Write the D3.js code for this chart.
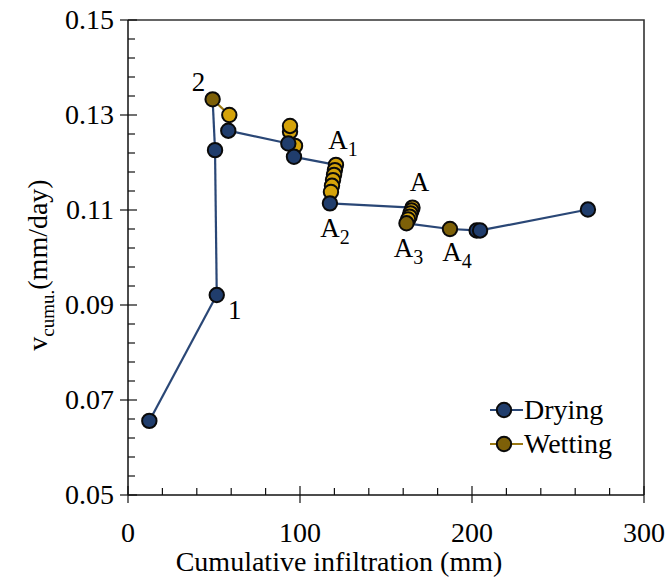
<!DOCTYPE html>
<html>
<head>
<meta charset="utf-8">
<script src="https://d3js.org/d3.v7.min.js"></script>
</head>
<body style="margin:0">
<script>
// points in the order they were measured
// phase: d = drying, w = wetting, t = wetting turning point
var infil = [12.4, 51.6, 50.6, 49.2, 58.9, 58.3, 93.2, 97.1, 94.2, 94.2, 96.5,
             120.9, 120.3, 119.8, 119.2, 118.6, 118.0, 117.4,
             165.4, 164.8, 164.2, 163.7, 162.8, 161.9, 187.2, 202.7, 204.7, 267.4];
var vcumu = [0.0656, 0.0921, 0.1226, 0.1333, 0.1300, 0.1267, 0.1240, 0.1235, 0.1265, 0.1277, 0.1212,
             0.1195, 0.1184, 0.1174, 0.1163, 0.1151, 0.1138, 0.1114,
             0.1105, 0.1099, 0.1093, 0.1086, 0.1080, 0.1072, 0.1060, 0.1057, 0.1057, 0.1101];
var phase = ["d", "d", "d", "t", "w", "d", "d", "w", "w", "w", "d",
             "w", "w", "w", "w", "w", "w", "d",
             "w", "w", "w", "w", "w", "t", "t", "d", "d", "d"];

var xTicks = [0, 100, 200, 300];
var yTicks = [0.05, 0.07, 0.09, 0.11, 0.13, 0.15];
var legendNames = ["Drying", "Wetting"];

// annotation labels: point index, text, subscript
var notes = [
  {i: 1,  t: "1", s: ""},
  {i: 3,  t: "2", s: ""},
  {i: 11, t: "A", s: "1"},
  {i: 17, t: "A", s: "2"},
  {i: 18, t: "A", s: ""},
  {i: 23, t: "A", s: "3"},
  {i: 24, t: "A", s: "4"}
];
var noteOffset = [[18, 24], [-14, -8], [7, -16], [5, 34], [7, -17], [2, 34], [7, 32]];

var navy = "#203d6c", gold = "#d5a30a", olive = "#7d6008";
var navyLine = "#2a4776", oliveLine = "#9a7812";

var W = 670, H = 581;
var svg = d3.select("body").append("svg").attr("width", W).attr("height", H);

function label(sel, size) {
  return sel.append("text")
    .style("font", size + "px 'DejaVu Serif', serif")
    .style("font-family", "Liberation Serif");
}

var x = d3.scaleLinear().domain([0, 300]).range([128, 644]);
var y = d3.scaleLinear().domain([0.05, 0.15]).range([495, 20]);

var pts = infil.map(function(d, i) { return {x: d, v: vcumu[i], p: phase[i], i: i}; });

// frame (top and right)
svg.append("path")
   .attr("d", "M" + x(0) + "," + y(0.15) + "H" + x(300) + "V" + y(0.05))
   .attr("fill", "none").attr("stroke", "#333").attr("stroke-width", 1.6);

// axes lines
svg.append("line").attr("x1", x(0)).attr("x2", x(300)).attr("y1", y(0.05)).attr("y2", y(0.05))
   .attr("stroke", "#111").attr("stroke-width", 1.5);
svg.append("line").attr("x1", x(0)).attr("x2", x(0)).attr("y1", y(0.05)).attr("y2", y(0.15))
   .attr("stroke", "#111").attr("stroke-width", 1.5);

// x ticks: minor every 20, major every 100
d3.range(0, 301, 20).forEach(function(t) {
  var major = t % 100 === 0;
  svg.append("line").attr("x1", x(t)).attr("x2", x(t))
     .attr("y1", y(0.05) - (major ? 9 : 7)).attr("y2", y(0.05) + (major ? 8 : 0))
     .attr("stroke", "#111").attr("stroke-width", 1.2);
});
xTicks.forEach(function(t) {
  label(svg, 28).attr("x", x(t)).attr("y", 542).attr("text-anchor", "middle").text(String(t));
});

// y ticks: minor every 0.004
d3.range(0, 26).forEach(function(k) {
  var v = 0.05 + k * 0.004;
  var major = k % 5 === 0;
  svg.append("line").attr("x1", x(0) - (major ? 8 : 0)).attr("x2", x(0) + (major ? 9 : 7))
     .attr("y1", y(v)).attr("y2", y(v))
     .attr("stroke", "#111").attr("stroke-width", 1.2);
});
yTicks.forEach(function(t) {
  label(svg, 28).attr("x", x(0) - 14).attr("y", y(t) + 9).attr("text-anchor", "end")
     .text(t.toFixed(2));
});

// axis titles
label(svg, 28).attr("x", (x(0) + x(300)) / 2 - 47).attr("y", 571).attr("text-anchor", "middle")
   .text("Cumulative infiltration (mm)");

var yt = label(svg, 28).attr("transform", "translate(47,265) rotate(-90)")
   .attr("text-anchor", "middle");
yt.append("tspan").text("v");
yt.append("tspan").style("font-size", "19px").attr("dy", 7).text("cumu.");
yt.append("tspan").attr("dy", -7).text("(mm/day)");

// connecting line, segment by segment
for (var k = 1; k < pts.length; k++) {
  var a = pts[k - 1], b = pts[k];
  var wet = b.p === "w" && a.p !== "d";
  svg.append("line")
     .attr("x1", x(a.x)).attr("y1", y(a.v)).attr("x2", x(b.x)).attr("y2", y(b.v))
     .attr("stroke", wet ? oliveLine : navyLine).attr("stroke-width", 2.2);
}

// markers: wetting first, turning points next, drying on top
var order = {w: 0, t: 1, d: 2};
var fills = {w: gold, t: olive, d: navy};
svg.selectAll("circle.pt")
   .data(pts.slice().sort(function(a, b) { return order[a.p] - order[b.p] || a.i - b.i; }))
   .enter().append("circle").attr("class", "pt")
   .attr("cx", function(d) { return x(d.x); })
   .attr("cy", function(d) { return y(d.v); })
   .attr("r", 7.2)
   .attr("fill", function(d) { return fills[d.p]; })
   .attr("stroke", "#0a0a0a").attr("stroke-width", 2);

// annotations
notes.forEach(function(n, j) {
  var p = pts[n.i];
  var t = label(svg, 27)
     .attr("x", x(p.x) + noteOffset[j][0]).attr("y", y(p.v) + noteOffset[j][1])
     .attr("text-anchor", "middle");
  t.append("tspan").text(n.t);
  if (n.s) t.append("tspan").style("font-size", "20px").attr("dy", 7).text(n.s);
});

// legend
var lg = svg.append("g").attr("transform", "translate(490,410)");
legendNames.forEach(function(name, j) {
  var g = lg.append("g").attr("transform", "translate(0," + (j * 34) + ")");
  g.append("line").attr("x1", 0).attr("x2", 33).attr("y1", 0).attr("y2", 0)
   .attr("stroke", j === 0 ? navyLine : oliveLine).attr("stroke-width", 2.2);
  g.append("circle").attr("cx", 14).attr("cy", 0).attr("r", 7.2)
   .attr("fill", j === 0 ? navy : olive).attr("stroke", "#0a0a0a").attr("stroke-width", 2);
  label(g, 28).attr("x", 34).attr("y", 9).text(name);
});
</script>
</body>
</html>
